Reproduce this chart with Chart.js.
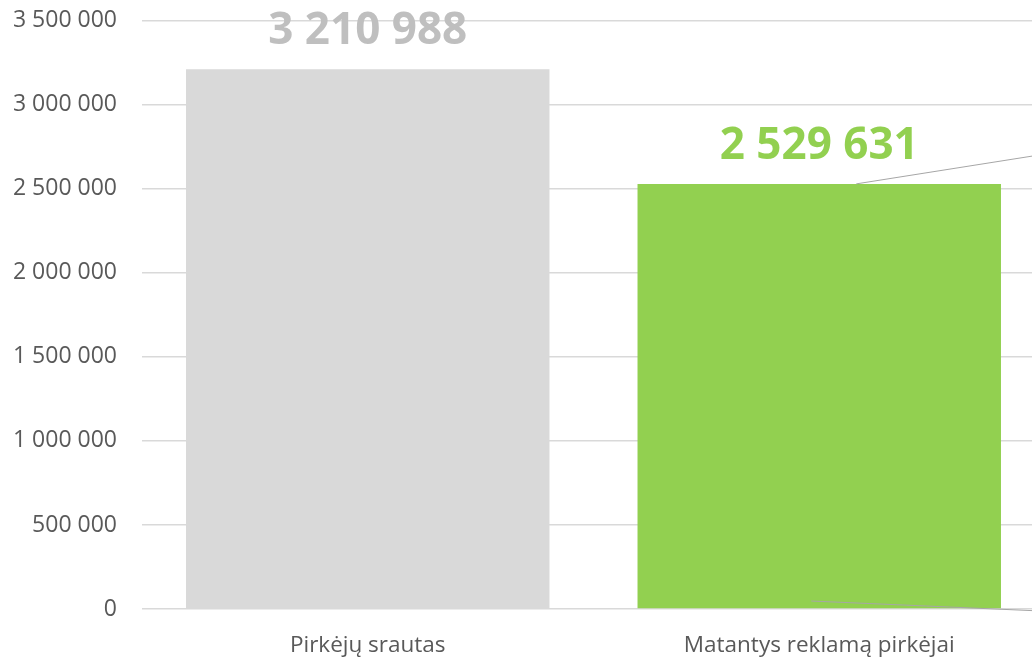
<!DOCTYPE html>
<html>
<head>
<meta charset="utf-8">
<script src="https://cdn.jsdelivr.net/npm/chart.js@4"></script>
<style>
  html, body { margin: 0; padding: 0; background: #fff; overflow: hidden; }
  #wrap { width: 1045px; height: 676px; margin-top: -18px; position: relative; }
</style>
</head>
<body>
<div id="wrap"><canvas id="barChart"></canvas></div>
<script>
const categories = ["Pirkėjų srautas", "Matantys reklamą pirkėjai"];
const values = [3210988, 2529631];
const barColors = ["#d9d9d9", "#92d050"];
const labelColors = ["#bfbfbf", "#92d050"];
// leader lines leaving the green bar towards the right (value at start, value at right edge)
const leaderFrom = [2529631, 47500];
const leaderTo = [2707000, -13000];

function fmt(v) {
  return String(v).replace(/\B(?=(\d{3})+(?!\d))/g, " ");
}

const valueLabels = {
  id: "valueLabels",
  afterDatasetsDraw(chart) {
    const ctx = chart.ctx;
    const meta = chart.getDatasetMeta(0);
    ctx.save();
    ctx.font = "bold 44px 'Open Sans'";
    ctx.textAlign = "center";
    ctx.textBaseline = "alphabetic";
    meta.data.forEach((bar, i) => {
      ctx.fillStyle = labelColors[i];
      ctx.fillText(fmt(values[i]), bar.x, bar.y - 25);
    });
    ctx.restore();
  },
};

const leaders = {
  id: "leaders",
  afterDatasetsDraw(chart) {
    const ctx = chart.ctx;
    const y = chart.scales.y;
    const bar = chart.getDatasetMeta(0).data[1];
    const startX = [bar.x + 37, bar.x - 8];
    ctx.save();
    ctx.strokeStyle = "#a6a6a6";
    ctx.lineWidth = 1;
    leaderFrom.forEach((v, i) => {
      ctx.beginPath();
      ctx.moveTo(startX[i], y.getPixelForValue(v));
      ctx.lineTo(chart.width, y.getPixelForValue(leaderTo[i]));
      ctx.stroke();
    });
    ctx.restore();
  },
};

const ctx = document.getElementById("barChart").getContext("2d");
new Chart(ctx, {
  type: "bar",
  data: {
    labels: categories,
    datasets: [
      {
        data: values,
        backgroundColor: barColors,
        borderWidth: 0,
        categoryPercentage: 0.805,
        barPercentage: 1,
      },
    ],
  },
  options: {
    responsive: true,
    maintainAspectRatio: false,
    animation: false,
    layout: { padding: { top: 4, right: 0, bottom: 0, left: 0 } },
    plugins: { legend: { display: false }, tooltip: { enabled: false } },
    scales: {
      x: {
        grid: { display: false },
        border: { display: false },
        ticks: {
          color: "#595959",
          font: { family: "'Open Sans'", size: 22.5 },
          padding: 15,
          maxRotation: 0,
        },
        afterFit(scale) { scale.height = 49; },
      },
      y: {
        min: 0,
        max: 3500000,
        ticks: {
          stepSize: 500000,
          color: "#595959",
          font: { family: "'Open Sans'", size: 23 },
          padding: 25,
          callback: (v) => fmt(v),
        },
        grid: { color: "#d9d9d9", lineWidth: 1.5, drawTicks: false },
        border: { display: false },
        afterFit(scale) { scale.width = 142; },
      },
    },
  },
  plugins: [leaders, valueLabels],
});
</script>
</body>
</html>
